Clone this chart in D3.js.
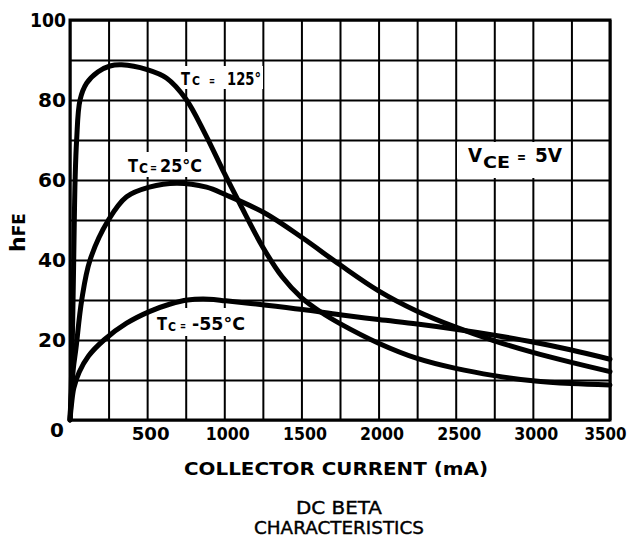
<!DOCTYPE html>
<html>
<head>
<meta charset="utf-8">
<script src="https://cdn.jsdelivr.net/npm/d3@7"></script>
<style>
  html, body { margin: 0; padding: 0; background: #fff; }
  svg { display: block; }
  text { fill: #000; font-family: "DejaVu Sans", sans-serif; }
</style>
</head>
<body>
<svg id="chart" width="637" height="542"></svg>
<script>
// values, [collector current mA, hFE]
const tc125 = [
  [0, 0], [8, 8], [15, 20], [22, 35], [28, 50], [33, 60], [43, 70], [65, 80],
  [108, 84.2], [180, 87], [259, 88.5], [335, 88.8], [500, 87.6], [625, 85.5],
  [750, 80.3], [875, 71.6], [1000, 61.7], [1102, 54], [1250, 43.2], [1375, 35.8],
  [1500, 30.6], [1625, 27], [1750, 24.1], [2000, 19.2], [2250, 15.4], [2500, 12.9],
  [2750, 11.1], [3000, 9.8], [3250, 9.1], [3500, 8.75]
];
const tc25 = [
  [0, 0], [10, 7], [22, 13], [39, 18], [76, 30], [130, 40], [249, 50], [367, 55.8],
  [514, 58.2], [691, 59.2], [885, 58.2], [1009, 56.3], [1259, 51.8], [1508, 45.5],
  [1750, 38.8], [2000, 32.3], [2250, 27.2], [2500, 23.2], [2750, 19.8],
  [3000, 16.9], [3250, 14.4], [3500, 12.1]
];
const tcMinus55 = [
  [0, 0], [10, 4], [25, 8], [60, 12], [120, 16], [220, 20], [367, 24.2], [514, 27.1],
  [650, 29], [762, 30], [900, 30.2], [1009, 29.8], [1259, 28.75], [1508, 27.6],
  [1750, 26.3], [2000, 25.1], [2250, 24], [2500, 22.7], [2750, 21.2], [3000, 19.5],
  [3250, 17.5], [3500, 15.2]
];

const xTickLabels = [500, 1000, 1500, 2000, 2500, 3000, 3500];
const yTickLabels = [20, 40, 60, 80, 100];
const xGridStep = 250;
const yGridStep = 10;

const L = 70, R = 610, T = 20, B = 420;

const svg = d3.select('#chart');
const x = d3.scaleLinear().domain([0, 3500]).range([L, R]);
const y = d3.scaleLinear().domain([0, 100]).range([B, T]);

// grid
const xGridVals = d3.range(0, 3500 + 1, xGridStep);
const yGridVals = d3.range(0, 100 + 1, yGridStep);

svg.append('g')
  .attr('transform', `translate(0,${B})`)
  .call(d3.axisBottom(x).tickValues(xGridVals).tickSize(-(B - T)).tickFormat(''))
  .call(g => g.select('.domain').remove())
  .selectAll('line').attr('stroke', '#000').attr('stroke-width', 2);

svg.append('g')
  .attr('transform', `translate(${L},0)`)
  .call(d3.axisLeft(y).tickValues(yGridVals).tickSize(-(R - L)).tickFormat(''))
  .call(g => g.select('.domain').remove())
  .selectAll('line').attr('stroke', '#000').attr('stroke-width', 2);

svg.append('rect')
  .attr('x', L).attr('y', T).attr('width', R - L).attr('height', B - T)
  .attr('fill', 'none').attr('stroke', '#000').attr('stroke-width', 3);

// white patches behind the in-plot labels
const boxes = [
  [179, 66, 84, 23],
  [126, 152, 78, 25],
  [154, 308, 94, 28],
  [457, 142, 112, 36]
];
svg.append('g').selectAll('rect').data(boxes).enter().append('rect')
  .attr('x', d => d[0]).attr('y', d => d[1]).attr('width', d => d[2]).attr('height', d => d[3])
  .attr('fill', '#fff');

// curves
const line = d3.line().x(d => x(d[0])).y(d => y(d[1])).curve(d3.curveCatmullRom.alpha(0.5));
svg.append('g').selectAll('path').data([tc125, tc25, tcMinus55]).enter().append('path')
  .attr('d', line)
  .attr('fill', 'none').attr('stroke', '#000').attr('stroke-width', 5)
  .attr('stroke-linecap', 'round').attr('stroke-linejoin', 'round');

// tick labels
svg.append('g')
  .attr('transform', `translate(0,${B})`)
  .call(d3.axisBottom(x).tickValues(xTickLabels).tickSize(0).tickPadding(7).tickFormat(d3.format('d')))
  .call(g => g.select('.domain').remove())
  .selectAll('text')
  .attr('dx', d => d === 3500 ? -5 : 3)
  .attr('font-size', 18).attr('font-weight', 'bold')
  .attr('font-family', '"DejaVu Sans", sans-serif')
  .attr('textLength', d => d === 3500 ? 42 : (String(d).length > 3 ? 44 : 38))
  .attr('lengthAdjust', 'spacingAndGlyphs');

svg.append('g')
  .attr('transform', `translate(${L},0)`)
  .call(d3.axisLeft(y).tickValues(yTickLabels).tickSize(0).tickPadding(4))
  .call(g => g.select('.domain').remove())
  .selectAll('text')
  .attr('font-size', 20).attr('font-weight', 'bold')
  .attr('font-family', '"DejaVu Sans", sans-serif')
  .attr('textLength', d => d >= 100 ? 36 : 28)
  .attr('lengthAdjust', 'spacingAndGlyphs');

svg.append('text').attr('x', 57).attr('y', 437).attr('text-anchor', 'middle')
  .attr('font-size', 20).attr('font-weight', 'bold').text('0');

// axis titles
const hfe = svg.append('text').attr('transform', 'translate(25,252) rotate(-90)')
  .attr('font-weight', 'bold');
hfe.append('tspan').attr('font-size', 22).text('h');
hfe.append('tspan').attr('font-size', 17).text('FE');

svg.append('text').attr('x', 336).attr('y', 475).attr('text-anchor', 'middle')
  .attr('font-size', 18).attr('font-weight', 'bold')
  .attr('textLength', 304).attr('lengthAdjust', 'spacingAndGlyphs')
  .text('COLLECTOR CURRENT (mA)');

svg.append('text').attr('x', 339).attr('y', 514).attr('text-anchor', 'middle')
  .attr('font-size', 18).attr('stroke', '#000').attr('stroke-width', 0.4)
  .attr('textLength', 86).attr('lengthAdjust', 'spacingAndGlyphs')
  .text('DC BETA');
svg.append('text').attr('x', 339).attr('y', 534).attr('text-anchor', 'middle')
  .attr('font-size', 18).attr('stroke', '#000').attr('stroke-width', 0.4)
  .attr('textLength', 170).attr('lengthAdjust', 'spacingAndGlyphs')
  .text('CHARACTERISTICS');

// curve labels: one text element, parts as tspans
function label(x0, base, parts) {
  const t = svg.append('text').attr('font-weight', 'bold').attr('x', x0).attr('y', base);
  parts.forEach(p => {
    const s = t.append('tspan').attr('x', x0 + p.dx).attr('y', base + (p.dy || 0))
      .attr('font-size', p.size).text(p.text);
    if (p.len) s.attr('textLength', p.len).attr('lengthAdjust', 'spacingAndGlyphs');
  });
}
label(181, 85, [
  { text: 'T', dx: 0, size: 17, len: 9 },
  { text: 'C', dx: 11, size: 13, len: 8 },
  { text: '=', dx: 28, size: 12, len: 6 },
  { text: '125°', dx: 46, size: 17, len: 34 }
]);
label(128, 172, [
  { text: 'T', dx: 0, size: 18, len: 10 },
  { text: 'C', dx: 11, size: 14, dy: 1, len: 9 },
  { text: '=', dx: 22, size: 12, len: 7 },
  { text: '25°C', dx: 32, size: 18, len: 42 }
]);
label(157, 330, [
  { text: 'T', dx: 0, size: 17, len: 10 },
  { text: 'C', dx: 11, size: 13, dy: 1, len: 8 },
  { text: '=', dx: 23, size: 12, len: 6 },
  { text: '-55°C', dx: 35, size: 17, len: 53 }
]);
label(468, 162, [
  { text: 'V', dx: 0, size: 19, len: 14 },
  { text: 'CE', dx: 15, size: 16, dy: 6, len: 27 },
  { text: '=', dx: 49, size: 14, len: 9 },
  { text: '5V', dx: 67, size: 19, len: 27 }
]);
</script>
</body>
</html>
